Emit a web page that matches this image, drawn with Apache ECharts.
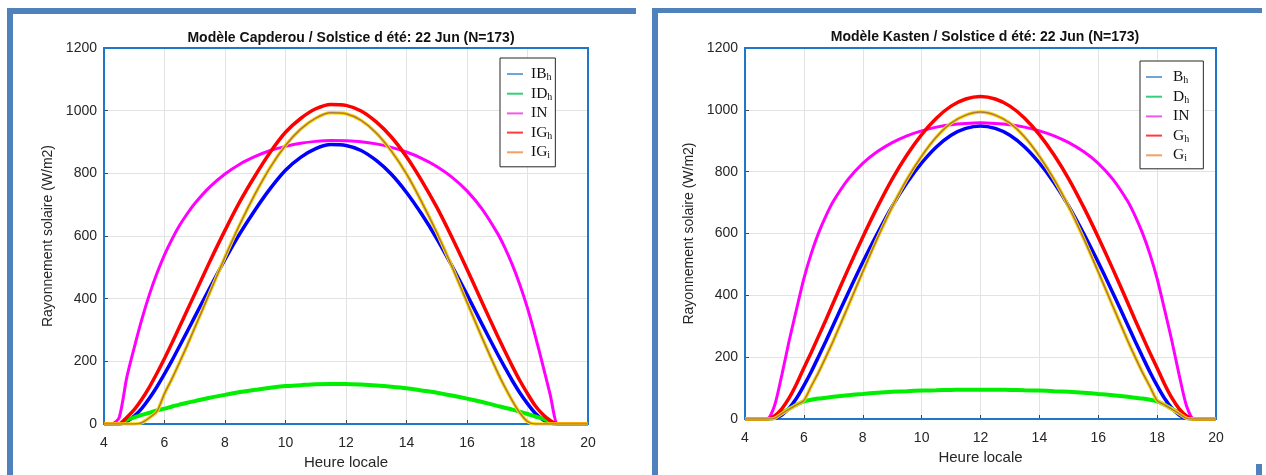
<!DOCTYPE html>
<html>
<head>
<meta charset="utf-8">
<script src="https://cdn.jsdelivr.net/npm/echarts@6/dist/echarts.min.js"></script>
<style>
  html, body { margin: 0; padding: 0; background: #ffffff; }
  #wrap { position: relative; width: 1266px; height: 475px; overflow: hidden; }
  #left { position: absolute; left: 0; top: 0; width: 640px; height: 475px; }
  #right { position: absolute; left: 640px; top: 0; width: 626px; height: 475px; }
</style>
</head>
<body>
<div id="wrap"><div id="left"></div><div id="right"></div></div>
<script>
// Local time (h), shared by every curve of both panels
const hours = [
  4, 4.25, 4.5, 4.75, 5, 5.25, 5.5, 5.75, 6, 6.25, 6.5, 6.75, 7,
  7.5, 8, 8.5, 9, 9.5, 10, 10.5, 11, 11.5, 12, 12.5, 13, 13.5, 14, 14.5, 15, 15.5, 16, 16.5,
  17, 17.25, 17.5, 17.75, 18, 18.25, 18.5, 18.75, 19, 19.25, 19.5, 19.75, 20
];

// Capderou model (W/m2)
const capIBh = [0,0,0,8,25,50,82,119,160,203,249,295,342,
  435,525,609,684,752,810,851,879,892,889,873,841,797,739,670,592,505,413,318,
  225,181,138,99,65,35,14,3,0,0,0,0,0];
const capIDh = [0,0,0,13,21,29,36,43,49,56,62,68,73,
  84,93,102,109,116,121,124,127,128,128,126,123,119,114,107,100,91,81,70,
  58,52,46,39,32,24,17,8,0,0,0,0,0];
const capIN = [0,0,20,147,244,334,413,481,540,590,634,671,704,
  757,798,830,854,873,886,896,902,905,904,901,894,883,868,848,822,788,744,686,
  610,563,508,444,370,284,190,94,0,0,0,0,0];
const capIGh = [0,0,0,21,46,79,118,162,209,259,311,363,415,
  519,618,711,793,868,931,975,1006,1020,1017,999,964,916,853,777,692,596,494,388,
  283,233,184,138,97,59,31,11,0,0,0,0,0];
const capIGi = [0,0,0,0,0,4,20,40,97,145,197,251,307,
  420,533,639,735,820,889,941,976,993,990,969,929,871,798,709,611,503,389,275,
  167,118,74,35,8,0,0,0,0,0,0,0,0];

// Kasten model (W/m2)
const kasBh = [0,0,0,0,2,13,35,67,108,153,202,252,304,
  407,507,601,688,764,828,880,918,940,948,940,918,880,828,764,688,601,507,407,
  304,252,202,153,108,67,35,13,2,0,0,0,0];
const kasDh = [0,0,0,0,8,20,33,46,57,62,66,69,72,
  77,81,85,88,90,92,93,94,95,95,95,94,93,92,90,88,85,81,77,
  72,69,66,62,57,46,33,20,8,0,0,0,0];
const kasIN = [0,0,0,0,42,142,253,355,454,535,602,657,704,
  775,827,865,894,916,932,944,952,956,958,956,952,944,932,916,894,865,827,775,
  704,657,602,535,454,355,253,142,42,0,0,0,0];
const kasGh = [0,0,0,0,10,33,68,113,165,215,268,321,376,
  484,588,686,776,854,920,973,1012,1035,1043,1035,1012,973,920,854,776,686,588,484,
  376,321,268,215,165,113,68,33,10,0,0,0,0];
const kasGi = [0,0,0,0,2,17,32,46,60,106,151,201,253,
  364,476,585,686,775,850,912,957,983,993,983,957,912,850,775,686,585,476,364,
  253,201,151,106,60,46,32,17,2,0,0,0,0];

// Axis ticks
const xTicks = { min: 4, max: 20, step: 2 };
const yTicks = { min: 0, max: 1200, step: 200 };

const FRAME = '#1f77c9';
const BAR = '#4f81bd';
const INK = '#262626';
const SANS = '"Liberation Sans", Arial, sans-serif';
const SERIF = '"Liberation Serif", "Times New Roman", serif';

const pairs = vals => hours.map((h, i) => [h, vals[i]]);

function lineSeries(name, vals, color, width, z) {
  return {
    name: name, type: 'line', data: pairs(vals), showSymbol: false, smooth: 0.25,
    z: z, lineStyle: { color: color, width: width }, itemStyle: { color: color },
    emphasis: { disabled: true }
  };
}

function buildPanel(el, p) {
  const chart = echarts.init(el, null, { renderer: 'canvas' });
  const legendData = p.legend.map(l => ({
    name: l.key, icon: 'rect', itemStyle: { color: l.icon }
  }));
  const labelOf = {};
  p.legend.forEach(l => { labelOf[l.key] = l.label; });
  const g = p.grid;
  // decorative page bars plus the blue plot frame (under the curves)
  const graphics = p.bars.map(b => ({
    type: 'rect', shape: { x: b[0], y: b[1], width: b[2], height: b[3] },
    style: { fill: BAR }, silent: true, z: 100
  }));
  graphics.push({
    type: 'rect', shape: { x: g.left, y: g.top, width: g.width, height: g.height },
    style: { fill: null, stroke: FRAME, lineWidth: 2 }, silent: true, z: 1
  });
  chart.setOption({
    animation: false,
    backgroundColor: '#ffffff',
    title: {
      text: p.title, left: p.titleX, top: p.titleY, textAlign: 'center',
      textStyle: { fontFamily: SANS, fontSize: 14, fontWeight: 'bold', color: '#111111' }
    },
    grid: { left: g.left, top: g.top, width: g.width, height: g.height, show: false },
    legend: {
      data: legendData, orient: 'vertical', left: p.legendPos.left, top: p.legendPos.top,
      padding: p.legendPos.padding, itemGap: 3.2, itemWidth: 16, itemHeight: 2,
      borderColor: INK, borderWidth: 1, borderRadius: 0, backgroundColor: '#ffffff',
      selectedMode: false,
      formatter: name => labelOf[name],
      textStyle: {
        rich: {
          n: { fontFamily: SERIF, fontSize: 15.5, color: '#111111', lineHeight: 17, padding: [0, 0, 0, p.legendPos.textPad] },
          s: { fontFamily: SERIF, fontSize: 10, color: '#111111', lineHeight: 17, verticalAlign: 'bottom', padding: [4, 0, 0, 0] }
        }
      }
    },
    xAxis: {
      type: 'value', min: xTicks.min, max: xTicks.max, interval: xTicks.step,
      name: 'Heure locale', nameLocation: 'middle', nameGap: p.xNameGap,
      nameTextStyle: { fontFamily: SANS, fontSize: 15, color: INK },
      axisLine: { show: false },
      axisTick: { show: true, inside: true, length: 4, lineStyle: { color: '#444444' } },
      axisLabel: { fontFamily: SANS, fontSize: 14, color: INK, margin: 12 },
      splitLine: { show: true, lineStyle: { color: '#e3e3e3', width: 1 } }
    },
    yAxis: {
      type: 'value', min: yTicks.min, max: yTicks.max, interval: yTicks.step,
      name: 'Rayonnement solaire (W/m2)', nameLocation: 'middle', nameGap: p.yNameGap,
      nameRotate: 90,
      nameTextStyle: { fontFamily: SANS, fontSize: 14, color: INK },
      axisLine: { show: false },
      axisTick: { show: true, inside: true, length: 4, lineStyle: { color: '#444444' } },
      axisLabel: { fontFamily: SANS, fontSize: 14, color: INK, margin: 7, formatter: v => String(v) },
      splitLine: { show: true, lineStyle: { color: '#e3e3e3', width: 1 } }
    },
    graphic: graphics,
    series: [
      lineSeries(p.keys[0], p.vals[0], '#0000ff', 3.5, 2),
      lineSeries(p.keys[1], p.vals[1], '#00ee00', 4, 3),
      lineSeries(p.keys[2], p.vals[2], '#ff00ff', 3, 4),
      lineSeries(p.keys[3], p.vals[3], '#ff0000', 3.5, 5),
      lineSeries(p.keys[4], p.vals[4], '#ffd700', 3.5, 6),
      lineSeries(p.keys[4], p.vals[4], '#a9794a', 1.5, 7)
    ]
  });
  return chart;
}

buildPanel(document.getElementById('left'), {
  title: 'Modèle Capderou / Solstice d été: 22 Jun (N=173)',
  titleX: 346, titleY: 26,
  grid: { left: 104, top: 48, width: 484, height: 376 },
  xNameGap: 31, yNameGap: 47,
  legendPos: { left: 500, top: 58, padding: [8, 3, 6, 7], textPad: 3 },
  keys: ['IBh', 'IDh', 'IN', 'IGh', 'IGi'],
  vals: [capIBh, capIDh, capIN, capIGh, capIGi],
  legend: [
    { key: 'IBh', label: '{n|IB}{s|h}', icon: '#6ea6d8' },
    { key: 'IDh', label: '{n|ID}{s|h}', icon: '#34cf7a' },
    { key: 'IN', label: '{n|IN}', icon: '#f15ae6' },
    { key: 'IGh', label: '{n|IG}{s|h}', icon: '#ff3c3c' },
    { key: 'IGi', label: '{n|IG}{s|i}', icon: '#f2a064' }
  ],
  bars: [[7, 8, 629, 6], [7, 8, 6, 467]]
});

buildPanel(document.getElementById('right'), {
  title: 'Modèle Kasten / Solstice d été: 22 Jun (N=173)',
  titleX: 340, titleY: 25,
  grid: { left: 105, top: 48, width: 471, height: 371 },
  xNameGap: 30, yNameGap: 46,
  legendPos: { left: 500, top: 61, padding: [8, 14, 5, 6], textPad: 6 },
  keys: ['Bh', 'Dh', 'IN', 'Gh', 'Gi'],
  vals: [kasBh, kasDh, kasIN, kasGh, kasGi],
  legend: [
    { key: 'Bh', label: '{n|B}{s|h}', icon: '#6ea6d8' },
    { key: 'Dh', label: '{n|D}{s|h}', icon: '#34cf7a' },
    { key: 'IN', label: '{n|IN}', icon: '#f15ae6' },
    { key: 'Gh', label: '{n|G}{s|h}', icon: '#ff3c3c' },
    { key: 'Gi', label: '{n|G}{s|i}', icon: '#f2a064' }
  ],
  bars: [[12, 8, 610, 5], [12, 8, 6, 467], [616, 464, 6, 11]]
});
</script>
</body>
</html>
